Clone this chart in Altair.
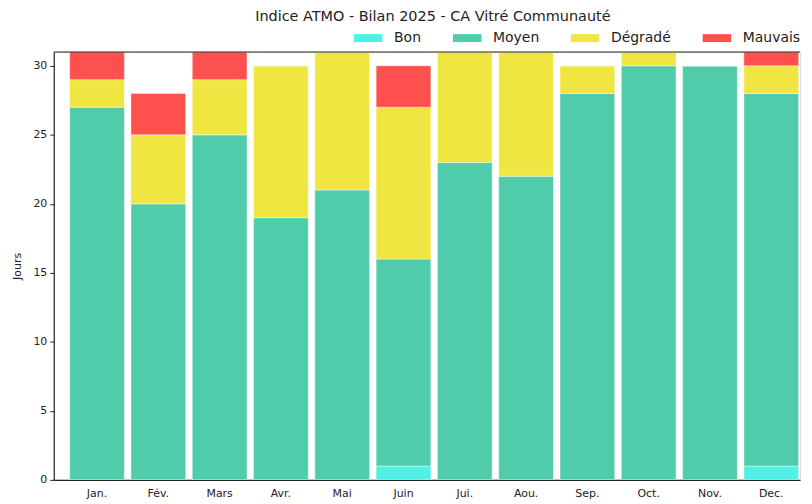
import altair as alt
import pandas as pd

months = ["Jan.", "Fév.", "Mars", "Avr.", "Mai", "Juin", "Jui.", "Aou.", "Sep.", "Oct.", "Nov.", "Dec."]
categories = ["Bon", "Moyen", "Dégradé", "Mauvais"]
colors = ["#50F0E6", "#50CCAA", "#F0E641", "#FF5050"]

bon = [0, 0, 0, 0, 0, 1, 0, 0, 0, 0, 0, 1]
moyen = [27, 20, 25, 19, 21, 15, 23, 22, 28, 30, 30, 27]
degrade = [2, 5, 4, 11, 10, 11, 8, 9, 2, 1, 0, 2]
mauvais = [2, 3, 2, 0, 0, 3, 0, 0, 0, 0, 0, 1]

series = [bon, moyen, degrade, mauvais]
rows = []
for ci, (cat, vals) in enumerate(zip(categories, series)):
    for m, v in zip(months, vals):
        rows.append({"Mois": m, "Indice": cat, "Jours": v, "ordre": ci})
df = pd.DataFrame(rows)

FONT = "DejaVu Sans"

bars = alt.Chart(df).mark_bar(
    stroke="white", strokeWidth=0.6, strokeOpacity=0.7, clip=True
).encode(
    x=alt.X("Mois:N", sort=months,
            scale=alt.Scale(paddingInner=0.107, paddingOuter=0.141, align=0.92, round=False),
            axis=alt.Axis(title=None, labelAngle=0, ticks=False, domain=True,
                          domainColor="#222222", domainWidth=1.2,
                          labelFont=FONT, labelFontSize=11, labelColor="#222222",
                          labelPadding=8)),
    y=alt.Y("Jours:Q", stack="zero",
            scale=alt.Scale(domain=[0, 31], nice=False),
            axis=alt.Axis(title="Jours", values=[0, 5, 10, 15, 20, 25, 30],
                          grid=False, tickSize=4, tickColor="#222222",
                          domainColor="#222222", domainWidth=1.2,
                          labelFont=FONT, labelFontSize=11, labelColor="#222222",
                          labelPadding=3,
                          titleFont=FONT, titleFontSize=11, titleFontWeight="normal",
                          titleColor="#222222", titlePadding=10)),
    color=alt.Color("Indice:N", sort=categories,
                    scale=alt.Scale(domain=categories, range=colors),
                    legend=alt.Legend(
                        title=None, orient="none", direction="horizontal",
                        legendX=306, legendY=-24,
                        symbolType="M-1.43,-0.4H1.43V0.4H-1.43Z",
                        symbolSize=400, symbolStrokeWidth=0,
                        labelFont=FONT, labelFontSize=14, labelColor="#222222",
                        labelOffset=16, columnPadding=30.5, padding=0)),
    order=alt.Order("ordre:Q", sort="ascending"),
)

top_line = alt.Chart(pd.DataFrame({"y": [31]})).mark_rule(
    color="#222222", strokeWidth=1.2
).encode(y=alt.Y("y:Q", scale=alt.Scale(domain=[0, 31], nice=False)))

chart = alt.layer(bars, top_line).properties(
    width=750, height=430,
    title=alt.Title("Indice ATMO - Bilan 2025 - CA Vitré Communauté",
                    font=FONT, fontSize=14.5, fontWeight="normal", color="#222222",
                    anchor="middle", dx=6, offset=4),
    autosize=alt.AutoSizeParams(type="none"),
    padding={"left": 46, "top": 43, "right": 4, "bottom": 22},
).configure_view(stroke=None).configure(background="white")

chart.save("out.html", embed_options={"renderer": "svg", "actions": False})
